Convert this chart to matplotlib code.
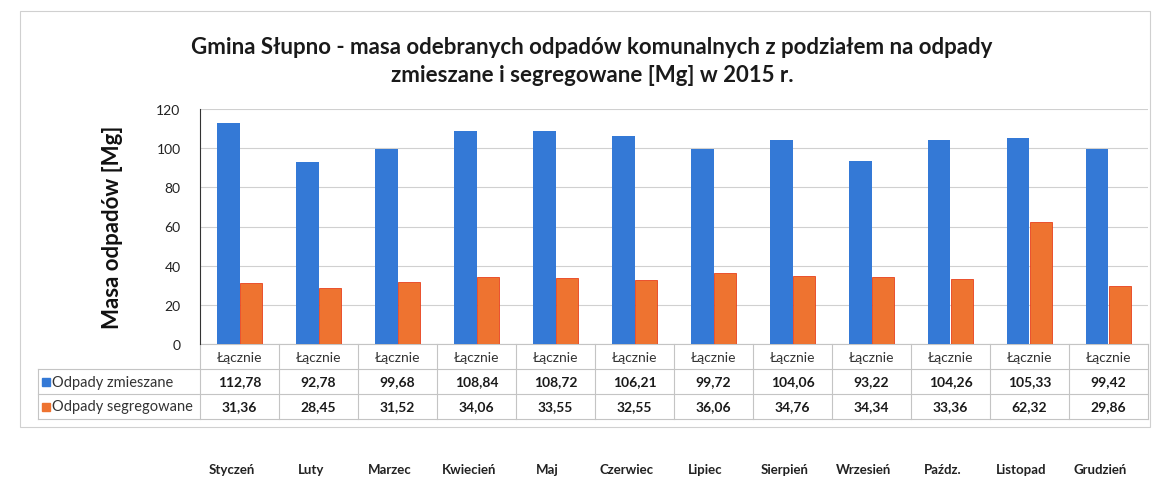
import matplotlib.pyplot as plt
import matplotlib.transforms as mtransforms
from matplotlib.patches import Rectangle

months = ["Styczeń", "Luty", "Marzec", "Kwiecień", "Maj", "Czerwiec",
          "Lipiec", "Sierpień", "Wrzesień", "Paźdz.", "Listopad", "Grudzień"]
header = ["Łącznie"] * 12
zmieszane = [112.78, 92.78, 99.68, 108.84, 108.72, 106.21,
             99.72, 104.06, 93.22, 104.26, 105.33, 99.42]
segregowane = [31.36, 28.45, 31.52, 34.06, 33.55, 32.55,
               36.06, 34.76, 34.34, 33.36, 62.32, 29.86]
series_names = ["Odpady zmieszane", "Odpady segregowane"]

blue = "#3479d6"
orange = "#ee7330"
plt.rcParams["font.family"] = ["Lato", "DejaVu Sans"]

fig = plt.figure(figsize=(11.57, 4.85), dpi=100)
ax = fig.add_axes([200 / 1157, 1 - 345 / 485, 948 / 1157, 235 / 485])

x = list(range(len(months)))
w = 0.28
ax.bar([i - w / 2 for i in x], zmieszane, width=w, color=blue, zorder=3)
ax.bar([i + w / 2 for i in x], segregowane, width=w, color=orange,
       edgecolor="#e8401c", linewidth=0.6, zorder=3)

ax.set_xlim(-0.5, 11.5)
ax.set_ylim(0, 120)
ax.set_yticks(range(0, 121, 20))
ax.tick_params(axis="y", length=0, labelsize=10, pad=14, labelcolor="#222222")
ax.set_xticks([])
ax.grid(axis="y", color="#d0d0d0", linewidth=0.8, zorder=0)
for s in ["top", "right", "bottom"]:
    ax.spines[s].set_visible(False)
ax.spines["left"].set_color("#333333")
ax.set_ylabel("Masa odpadów [Mg]", fontsize=16, labelpad=24, color="#111111",
              fontweight="bold")

fig.text(592 / 1157, 1 - 47 / 485,
         "Gmina Słupno - masa odebranych odpadów komunalnych z podziałem na odpady",
         ha="center", va="center", fontsize=16, fontweight="bold", color="#1a1a1a")
fig.text(592 / 1157, 1 - 76 / 485, "zmieszane i segregowane [Mg] w 2015 r.",
         ha="center", va="center", fontsize=16, fontweight="bold", color="#1a1a1a")

# data table under the axes
tr = mtransforms.blended_transform_factory(ax.transData, ax.transAxes)
rh = 25 / 235
left = -2.55
line_kw = dict(color="#c4c4c4", linewidth=0.8, transform=tr, clip_on=False)
ax.plot([-0.5, 11.5], [0, 0], **line_kw)
for r in (1, 2, 3):
    ax.plot([left, 11.5], [-r * rh, -r * rh], **line_kw)
for b in range(13):
    ax.plot([b - 0.5, b - 0.5], [0, -3 * rh], **line_kw)
ax.plot([left, left], [-rh, -3 * rh], **line_kw)

for i in x:
    ax.text(i, -0.5 * rh, header[i], transform=tr, ha="center", va="center",
            fontsize=10, color="#333333")
    ax.text(i, -1.5 * rh, f"{zmieszane[i]:.2f}".replace(".", ","), transform=tr,
            ha="center", va="center", fontsize=10, color="#1a1a1a",
            fontweight="bold")
    ax.text(i, -2.5 * rh, f"{segregowane[i]:.2f}".replace(".", ","), transform=tr,
            ha="center", va="center", fontsize=10, color="#1a1a1a",
            fontweight="bold")

for r, (name, col) in enumerate(zip(series_names, [blue, orange])):
    yc = -(r + 1.5) * rh
    ax.plot([left + 0.1], [yc], marker="s", markersize=6, color=col,
            transform=tr, clip_on=False)
    ax.text(left + 0.18, yc, name, transform=tr, ha="left", va="center",
            fontsize=10.5, color="#333333")

# month names below the chart
trm = mtransforms.blended_transform_factory(ax.transData, fig.transFigure)
for i, m in enumerate(months):
    ax.text(i - 0.1, 1 - 470 / 485, m, transform=trm, ha="center", va="center",
            fontsize=9.5, color="#222222", fontweight="bold")

# outer chart border
fig.patches.append(Rectangle((20 / 1157, 1 - 428 / 485), 1130 / 1157, 416 / 485,
                             transform=fig.transFigure, fill=False,
                             edgecolor="#d0d0d0", linewidth=0.8))

fig.savefig("out.png", dpi=100)
